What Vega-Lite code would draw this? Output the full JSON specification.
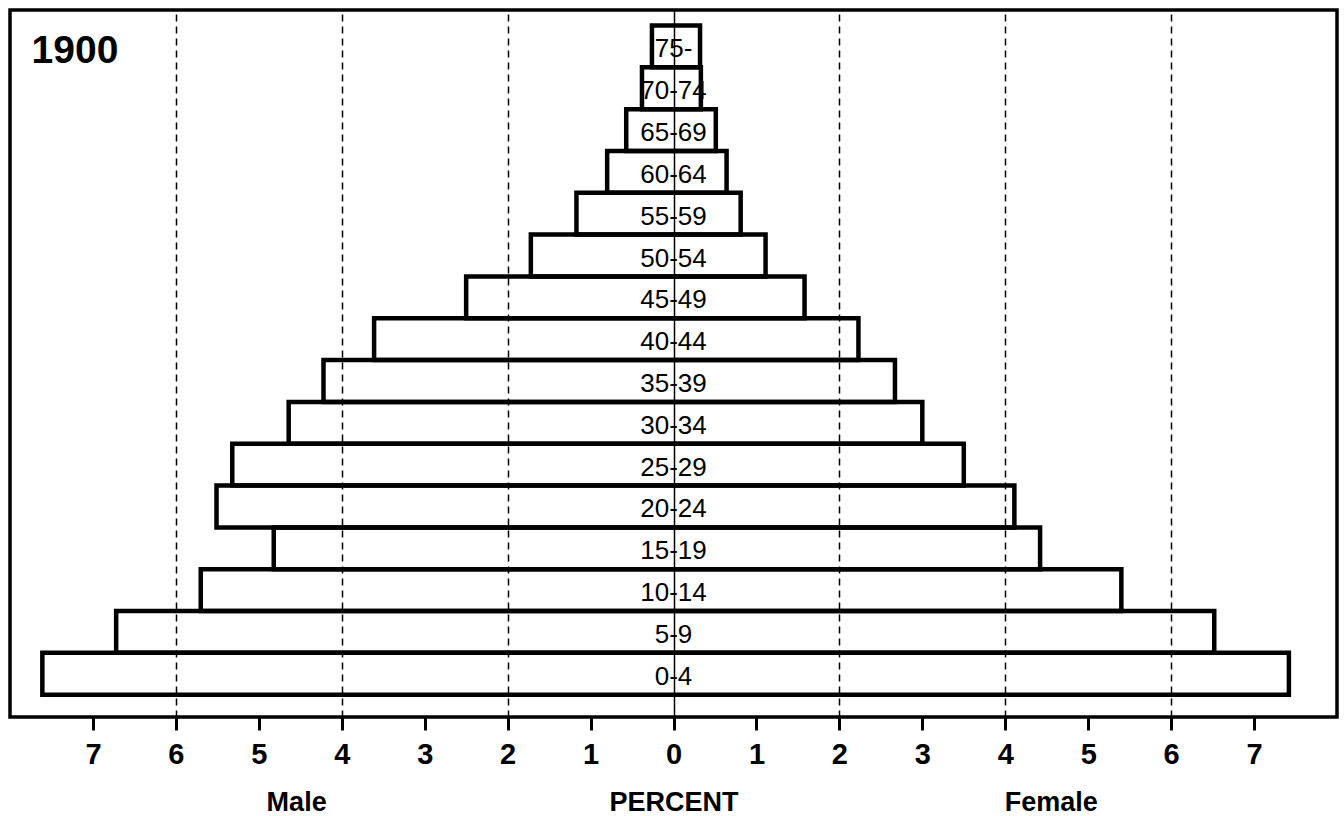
{
  "$schema": "https://vega.github.io/schema/vega-lite/v6.json",
  "width": 1327,
  "height": 707,
  "autosize": {"type": "none"},
  "padding": {"left": 10, "top": 10, "right": 7, "bottom": 99},
  "background": "white",
  "config": {
    "view": {"stroke": "black", "strokeWidth": 3.5},
    "font": "Liberation Sans"
  },
  "datasets": {
    "pyramid": [
      {"age": "75-", "male": -0.26, "female": 0.32},
      {"age": "70-74", "male": -0.38, "female": 0.33},
      {"age": "65-69", "male": -0.57, "female": 0.51},
      {"age": "60-64", "male": -0.80, "female": 0.64},
      {"age": "55-59", "male": -1.17, "female": 0.81},
      {"age": "50-54", "male": -1.72, "female": 1.11},
      {"age": "45-49", "male": -2.50, "female": 1.58},
      {"age": "40-44", "male": -3.61, "female": 2.23},
      {"age": "35-39", "male": -4.22, "female": 2.67},
      {"age": "30-34", "male": -4.64, "female": 3.00},
      {"age": "25-29", "male": -5.32, "female": 3.50},
      {"age": "20-24", "male": -5.51, "female": 4.11},
      {"age": "15-19", "male": -4.82, "female": 4.42},
      {"age": "10-14", "male": -5.70, "female": 5.40},
      {"age": "5-9", "male": -6.72, "female": 6.52},
      {"age": "0-4", "male": -7.61, "female": 7.42}
    ]
  },
  "layer": [
    {
      "data": {"name": "pyramid"},
      "mark": {"type": "bar", "fill": "transparent", "stroke": "black", "strokeWidth": 4.5, "strokeJoin": "miter"},
      "encoding": {
        "y": {
          "field": "age", "type": "nominal",
          "scale": {
            "domain": ["75-", "70-74", "65-69", "60-64", "55-59", "50-54", "45-49", "40-44", "35-39", "30-34", "25-29", "20-24", "15-19", "10-14", "5-9", "0-4"],
            "paddingInner": 0, "paddingOuter": 0.452, "align": 0.41
          },
          "axis": null
        },
        "x": {
          "field": "male", "type": "quantitative",
          "scale": {"domain": [-8, 8], "nice": false, "zero": false},
          "axis": {
            "orient": "bottom",
            "values": [-7, -6, -5, -4, -3, -2, -1, 0, 1, 2, 3, 4, 5, 6, 7],
            "labelExpr": "'' + abs(datum.value)",
            "domain": false,
            "ticks": true, "tickSize": 13, "tickWidth": 3, "tickColor": "black",
            "labelFont": "Liberation Sans", "labelFontWeight": "bold", "labelFontSize": 29,
            "labelColor": "black", "labelPadding": 10, "labelFlush": false, "labelOverlap": false,
            "grid": true, "gridColor": "black", "gridWidth": 1.5,
            "gridDash": {"condition": {"test": "datum.value === 0", "value": []}, "value": [7, 5]},
            "gridOpacity": {"condition": {"test": "datum.value % 2 !== 0", "value": 0}, "value": 1},
            "title": "PERCENT",
            "titleFont": "Liberation Sans", "titleFontSize": 27, "titleFontWeight": "bold",
            "titleColor": "black", "titleBaseline": "alphabetic", "titleY": 93
          }
        },
        "x2": {"field": "female"}
      }
    },
    {
      "data": {"name": "pyramid"},
      "mark": {"type": "text", "font": "Liberation Sans", "fontSize": 26, "color": "black", "align": "center", "baseline": "middle", "dy": 3},
      "encoding": {
        "x": {"datum": 0, "type": "quantitative", "scale": {"domain": [-8, 8], "nice": false, "zero": false}, "axis": null},
        "y": {
          "field": "age", "type": "nominal",
          "scale": {"domain": ["75-", "70-74", "65-69", "60-64", "55-59", "50-54", "45-49", "40-44", "35-39", "30-34", "25-29", "20-24", "15-19", "10-14", "5-9", "0-4"]},
          "axis": null
        },
        "text": {"field": "age"}
      }
    },
    {
      "data": {"values": [{"label": "1900"}]},
      "mark": {"type": "text", "font": "Liberation Sans", "fontSize": 39, "fontWeight": "bold", "color": "black", "align": "left", "baseline": "alphabetic", "dy": 17},
      "encoding": {
        "x": {"datum": -7.74, "type": "quantitative", "scale": {"domain": [-8, 8], "nice": false, "zero": false}, "axis": null},
        "y": {
          "datum": "75-", "type": "nominal",
          "scale": {"domain": ["75-", "70-74", "65-69", "60-64", "55-59", "50-54", "45-49", "40-44", "35-39", "30-34", "25-29", "20-24", "15-19", "10-14", "5-9", "0-4"]},
          "axis": null
        },
        "text": {"field": "label"}
      }
    },
    {
      "data": {"values": [{"side": "Male", "pos": -4.55}, {"side": "Female", "pos": 4.55}]},
      "mark": {"type": "rule", "strokeOpacity": 0},
      "encoding": {
        "x": {
          "field": "pos", "type": "quantitative",
          "scale": {"domain": [-8, 8], "nice": false, "zero": false},
          "axis": {
            "orient": "bottom",
            "values": [-4.55, 4.55],
            "labelExpr": "datum.value < 0 ? 'Male' : 'Female'",
            "ticks": false, "tickSize": 0, "domain": false, "grid": false,
            "labelFont": "Liberation Sans", "labelFontSize": 27, "labelFontWeight": "bold",
            "labelColor": "black", "labelPadding": 93, "labelBaseline": "alphabetic",
            "labelFlush": false, "labelOverlap": false,
            "title": null
          }
        }
      }
    }
  ],
  "resolve": {"axis": {"x": "independent"}}
}
